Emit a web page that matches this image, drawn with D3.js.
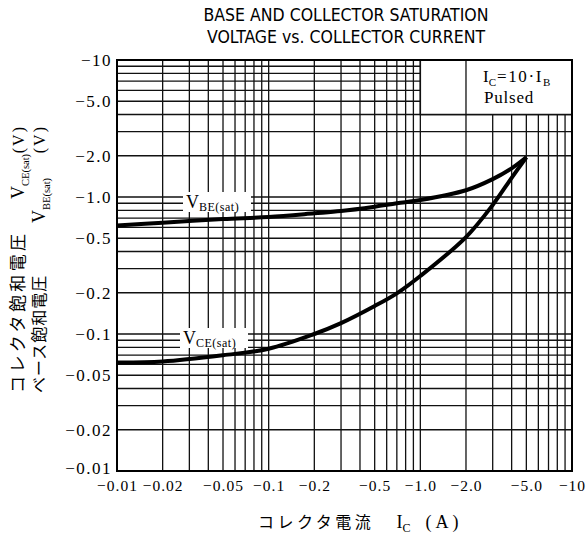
<!DOCTYPE html>
<html>
<head>
<meta charset="utf-8">
<script src="https://cdn.jsdelivr.net/npm/d3@7"></script>
<style>
  body { margin: 0; background: #fff; }
  svg { display: block; }
</style>
</head>
<body>
<div id="chart"></div>
<script>
// collector current Ic (A, shown as negative on the chart)
var current = [0.01, 0.02, 0.05, 0.1, 0.2, 0.3, 0.5, 0.7, 1.0, 2.0, 3.0, 4.0, 5.0];
// saturation voltages (V)
var vbeSat = [0.62, 0.65, 0.69, 0.715, 0.76, 0.79, 0.85, 0.90, 0.95, 1.12, 1.35, 1.62, 1.95];
var vceSat = [0.062, 0.063, 0.070, 0.078, 0.10, 0.120, 0.160, 0.198, 0.265, 0.51, 0.875, 1.38, 1.95];

var xTickValues = [0.01, 0.02, 0.05, 0.1, 0.2, 0.5, 1, 2, 5, 10];
var xTickLabels = ["\u22120.01", "\u22120.02", "\u22120.05", "\u22120.1", "\u22120.2", "\u22120.5", "\u22121.0", "\u22122.0", "\u22125.0", "\u221210"];
var yTickValues = [0.01, 0.02, 0.05, 0.1, 0.2, 0.5, 1, 2, 5, 10];
var yTickLabels = ["\u22120.01", "\u22120.02", "\u22120.05", "\u22120.1", "\u22120.2", "\u22120.5", "\u22121.0", "\u22122.0", "\u22125.0", "\u221210"];

var width = 587, height = 538;
var margin = {top: 60, right: 15, bottom: 67, left: 117};
var serif = "'Liberation Serif', 'DejaVu Serif', serif";
var jp = "'Noto Sans CJK JP', sans-serif";
var narrow = "'Liberation Sans Narrow', 'DejaVu Sans Condensed', sans-serif";

var svg = d3.select('#chart').append('svg')
    .attr('width', width)
    .attr('height', height);

var x = d3.scaleLog()
    .domain([0.01, 10])
    .range([margin.left, width - margin.right]);

var y = d3.scaleLog()
    .domain([0.01, 10])
    .range([height - margin.bottom, margin.top]);

// title
svg.append('text')
    .attr('x', 346).attr('y', 21)
    .attr('text-anchor', 'middle')
    .style('font-family', narrow).style('font-size', '17.5px')
    .text('BASE AND COLLECTOR SATURATION');
svg.append('text')
    .attr('x', 346).attr('y', 43)
    .attr('text-anchor', 'middle')
    .style('font-family', narrow).style('font-size', '17.5px')
    .text('VOLTAGE vs. COLLECTOR CURRENT');

// grid
var grid = svg.append('g').attr('stroke', '#111').attr('stroke-width', 1.3);
grid.selectAll('line.v').data(x.ticks())
  .enter().append('line')
    .attr('x1', function (d) { return x(d); })
    .attr('x2', function (d) { return x(d); })
    .attr('y1', y(0.01))
    .attr('y2', y(10));
grid.selectAll('line.h').data(y.ticks())
  .enter().append('line')
    .attr('x1', x(0.01))
    .attr('x2', x(10))
    .attr('y1', function (d) { return y(d); })
    .attr('y2', function (d) { return y(d); });

// legend box covers the top right cells
svg.append('rect')
    .attr('x', x(1)).attr('y', y(10))
    .attr('width', x(10) - x(1)).attr('height', y(4) - y(10))
    .attr('fill', '#fff').attr('stroke', '#111').attr('stroke-width', 1.5);
svg.append('line')
    .attr('x1', x(2)).attr('x2', x(2))
    .attr('y1', y(10)).attr('y2', y(4))
    .attr('stroke', '#111').attr('stroke-width', 1.3);

var legend = svg.append('text')
    .attr('x', 483).attr('y', 82)
    .style('font-family', serif).style('font-size', '17px');
legend.append('tspan').text('I');
legend.append('tspan').attr('dy', 4).style('font-size', '11px').text('C');
legend.append('tspan').attr('dy', -4).attr('dx', 1)
    .style('letter-spacing', '1.6px').text('=10\u00b7I');
legend.append('tspan').attr('dy', 4).style('font-size', '11px').text('B');
svg.append('text')
    .attr('x', 484).attr('y', 103)
    .style('font-family', serif).style('font-size', '17px')
    .style('letter-spacing', '0.8px')
    .text('Pulsed');

// curves
var line = d3.line()
    .x(function (d) { return x(d[0]); })
    .y(function (d) { return y(d[1]); })
    .curve(d3.curveCatmullRom.alpha(0.5));

var curves = [
  current.map(function (c, i) { return [c, vbeSat[i]]; }),
  current.map(function (c, i) { return [c, vceSat[i]]; })
];
svg.selectAll('path.curve').data(curves)
  .enter().append('path')
    .attr('class', 'curve')
    .attr('d', line)
    .attr('fill', 'none')
    .attr('stroke', '#000')
    .attr('stroke-width', 4)
    .attr('stroke-linejoin', 'round');

// curve labels with white background
function curveLabel(px, py, sub) {
  svg.append('rect')
      .attr('x', px - 3).attr('y', py - 16)
      .attr('width', 68).attr('height', 20)
      .attr('fill', '#fff');
  var t = svg.append('text')
      .attr('x', px).attr('y', py)
      .style('font-family', serif).style('font-size', '18px');
  t.append('tspan').text('V');
  t.append('tspan').attr('dy', 3).style('font-size', '12px')
      .style('letter-spacing', '0.5px').text(sub);
}
curveLabel(186, 208, 'BE(sat)');
curveLabel(183, 344, 'CE(sat)');

// frame
svg.append('rect')
    .attr('x', x(0.01)).attr('y', y(10))
    .attr('width', x(10) - x(0.01)).attr('height', y(0.01) - y(10))
    .attr('fill', 'none').attr('stroke', '#000').attr('stroke-width', 2);

// axes
var xAxis = d3.axisBottom(x)
    .tickValues(xTickValues)
    .tickFormat(function (d, i) { return xTickLabels[i]; })
    .tickSize(0).tickPadding(9);
var gx = svg.append('g')
    .attr('transform', 'translate(0,' + y(0.01) + ')')
    .call(xAxis);
gx.select('.domain').remove();
gx.selectAll('text')
    .style('font-family', serif).style('font-size', '15.5px')
    .style('letter-spacing', '1px').attr('fill', '#000');

var yAxis = d3.axisLeft(y)
    .tickValues(yTickValues)
    .tickFormat(function (d, i) { return yTickLabels[i]; })
    .tickSize(0).tickPadding(5);
var gy = svg.append('g')
    .attr('transform', 'translate(' + x(0.01) + ',0)')
    .call(yAxis);
gy.select('.domain').remove();
gy.selectAll('text')
    .style('font-family', serif).style('font-size', '17px')
    .style('letter-spacing', '1.5px').attr('fill', '#000');
// lowest label sits a little above the corner, clear of the x labels
gy.selectAll('text').filter(function (d) { return d === 0.01; }).attr('y', -3);

// x axis title
var xt = svg.append('text')
    .attr('x', 258).attr('y', 528)
    .style('font-family', jp).style('font-size', '16px');
xt.append('tspan').style('letter-spacing', '3.5px').text('コレクタ電流');
xt.append('tspan').attr('dx', 22).style('font-family', serif).style('font-size', '18px').text('I');
xt.append('tspan').attr('dy', 4).style('font-family', serif).style('font-size', '12px').text('C');
xt.append('tspan').attr('dy', -4).attr('dx', 15).style('font-family', serif).style('font-size', '18px')
    .style('letter-spacing', '4px').text('(A)');

// y axis titles (rotated, read bottom to top)
function rotText(px, py, anchor) {
  return svg.append('text')
      .attr('transform', 'translate(' + px + ',' + py + ') rotate(-90)')
      .attr('text-anchor', anchor);
}
function yTitle(px, jpText, jpSize, jpSpacing, vBottom, sub) {
  rotText(px, 393, 'start')
      .style('font-family', jp).style('font-size', jpSize + 'px')
      .style('letter-spacing', jpSpacing + 'px')
      .text(jpText);
  var v = rotText(px, vBottom, 'start').style('font-family', serif);
  v.append('tspan').style('font-size', '18px').text('V');
  v.append('tspan').attr('dy', 5).style('font-size', '10.5px').text(sub);
  rotText(px, 125, 'end')
      .style('font-family', serif).style('font-size', '16px')
      .style('letter-spacing', '2px')
      .text('(V)');
}
yTitle(24, 'コレクタ飽和電圧', 17, 3.4, 199, 'CE(sat)');
yTitle(45, 'ベース飽和電圧', 16, 1, 223, 'BE(sat)');
</script>
</body>
</html>
